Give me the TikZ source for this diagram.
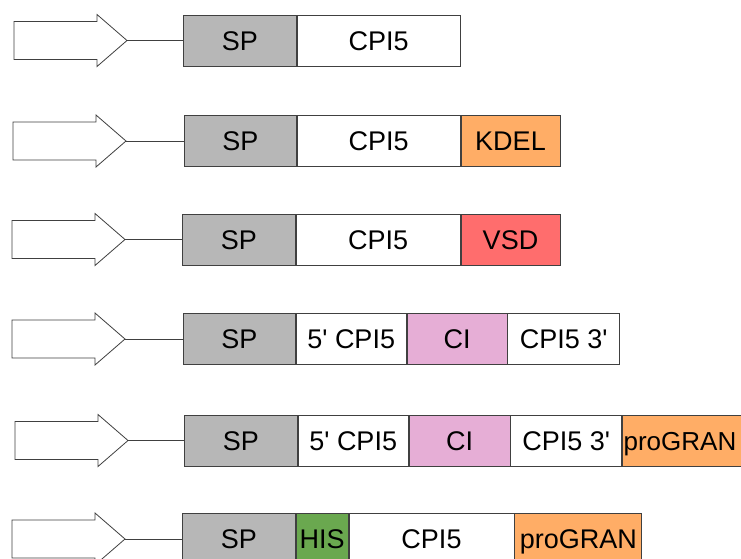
\documentclass[tikz,border=0pt]{standalone}
\usepackage{fontspec}
\setmainfont{Liberation Sans}
\definecolor{spgray}{HTML}{B7B7B7}
\definecolor{kdelc}{HTML}{FFAD66}
\definecolor{vsdc}{HTML}{FF6D6D}
\definecolor{cic}{HTML}{E6AED6}
\definecolor{hisc}{HTML}{6AA84F}
\definecolor{progc}{HTML}{FFAD66}
\definecolor{edge}{HTML}{404040}
\newcommand\promarrow[3]{% #1 name, #2 y centre, #3 x shift
  \draw[arrowshape] (14+#3,#2-19) -- (97+#3,#2-19) -- (97+#3,#2-26) -- (127+#3,#2)
     -- (97+#3,#2+26) -- (97+#3,#2+19) -- (14+#3,#2+19) -- cycle;
  \coordinate (#1) at (127+#3,#2);
}
\newcommand\sq{\textquotesingle}
\begin{document}
\begin{tikzpicture}[x=1pt,y=-1pt,
  arrowshape/.style={draw=edge,line width=0.8pt,fill=white,line join=miter},
  seg/.style={draw=edge,line width=0.8pt,minimum height=51pt,inner sep=0pt,
     anchor=west,font=\fontsize{27}{27}\selectfont,text height=19.5pt,text depth=0pt},
  link/.style={draw=edge,line width=0.8pt}]
\useasboundingbox (0,0) rectangle (741,558);
\clip (0,0) rectangle (741,558);
% Row 1
\promarrow{t1}{40.5}{0}
\node[seg,fill=spgray,minimum width=113pt] (sp1) at (183,40.5) {SP};
\node[seg,fill=white,minimum width=163pt] (cpi1) at (sp1.east) {CPI5};
\draw[link] (t1) -- (sp1.west);
% Row 2
\promarrow{t2}{141}{-1}
\node[seg,fill=spgray,minimum width=112pt] (sp2) at (184,141) {SP};
\node[seg,fill=white,minimum width=163pt] (cpi2) at (sp2.east) {CPI5};
\node[seg,fill=kdelc,minimum width=99pt] (kdel2) at (cpi2.east) {KDEL};
\draw[link] (t2) -- (sp2.west);
% Row 3
\promarrow{t3}{239.5}{-2}
\node[seg,fill=spgray,minimum width=113pt] (sp3) at (182,239.5) {SP};
\node[seg,fill=white,minimum width=164pt] (cpi3) at (sp3.east) {CPI5};
\node[seg,fill=vsdc,minimum width=99pt] (vsd3) at (cpi3.east) {VSD};
\draw[link] (t3) -- (sp3.west);
% Row 4
\promarrow{t4}{339}{-2}
\node[seg,fill=spgray,minimum width=112pt] (sp4) at (183,339) {SP};
\node[seg,fill=white,minimum width=110pt] (fcpi4) at (sp4.east) {5\sq{} CPI5};
\node[seg,fill=cic,minimum width=100pt] (ci4) at (fcpi4.east) {CI};
\node[seg,fill=white,minimum width=112pt] (tcpi4) at (ci4.east) {CPI5 3\sq};
\draw[link] (t4) -- (sp4.west);
% Row 5
\promarrow{t5}{440.5}{1}
\node[seg,fill=spgray,minimum width=113pt] (sp5) at (184,440.5) {SP};
\node[seg,fill=white,minimum width=110pt] (fcpi5) at (sp5.east) {5\sq{} CPI5};
\node[seg,fill=cic,minimum width=101pt] (ci5) at (fcpi5.east) {CI};
\node[seg,fill=white,minimum width=111pt] (tcpi5) at (ci5.east) {CPI5 3\sq};
\node[seg,fill=progc,minimum width=122pt,align=left,text width=122pt] (prog5) at (tcpi5.east) {\hspace*{1pt}\fontsize{26}{26}\selectfont proGRAN};
\draw[link] (t5) -- (sp5.west);
% Row 6
\promarrow{t6}{539}{-2}
\node[seg,fill=spgray,minimum width=113pt] (sp6) at (182,539) {SP};
\node[seg,fill=hisc,minimum width=52pt] (his6) at (sp6.east) {HIS};
\node[seg,fill=white,minimum width=165pt] (cpi6) at (his6.east) {CPI5};
\node[seg,fill=progc,minimum width=127pt] (prog6) at (cpi6.east) {proGRAN};
\draw[link] (t6) -- (sp6.west);
\end{tikzpicture}
\end{document}
